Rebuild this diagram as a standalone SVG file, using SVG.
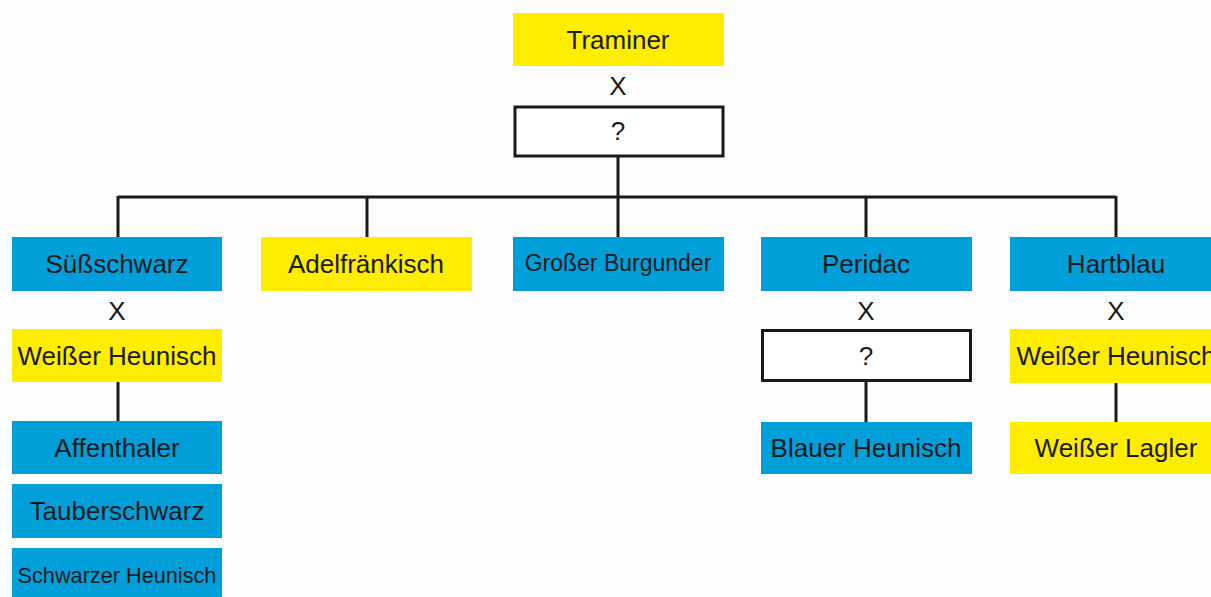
<svg xmlns="http://www.w3.org/2000/svg" width="1211" height="597" viewBox="0 0 1211 597">
<style>
.b{fill:#009fda}
.y{fill:#ffed00}
.w{fill:#ffffff;stroke:#1a1a1a;stroke-width:3}
text{font-family:"Liberation Sans",Arial,sans-serif;font-size:26px;fill:#1a1a1a;text-anchor:middle}
.s{font-size:21.7px}
.g{font-size:23px}
.c{stroke:#1a1a1a;stroke-width:3;fill:none}
</style>
<rect width="1211" height="597" fill="#fdfdfd"/>
<g id="connectors">
<path class="c" d="M618 156V197M118 197H1116M118 196V237M367 196V237M618 196V237M866 196V237M1116 196V237"/>
<path class="c" d="M118 382V421M866 381V422M1116 383V422"/>
</g>
<g id="traminer"><rect class="y" x="513" y="13" width="211" height="53"/><text x="618" y="49">Traminer</text></g>
<g id="x1"><text x="618" y="95">X</text></g>
<g id="unknown1"><rect class="w" x="515" y="107" width="208" height="49"/><text x="618" y="140">?</text></g>
<g id="suessschwarz"><rect class="b" x="12" y="237" width="210" height="54"/><text x="117" y="273">Süßschwarz</text></g>
<g id="x2"><text x="117" y="320">X</text></g>
<g id="weisser-heunisch1"><rect class="y" x="12" y="329" width="210" height="53"/><text x="117" y="365">Weißer Heunisch</text></g>
<g id="affenthaler"><rect class="b" x="12" y="421" width="210" height="53"/><text x="117" y="457">Affenthaler</text></g>
<g id="tauberschwarz"><rect class="b" x="12" y="484" width="210" height="54"/><text x="117" y="520">Tauberschwarz</text></g>
<g id="schwarzer-heunisch"><rect class="b" x="12" y="548" width="210" height="54"/><text class="s" x="117" y="583">Schwarzer Heunisch</text></g>
<g id="adelfraenkisch"><rect class="y" x="261" y="237" width="211" height="54"/><text x="366" y="273">Adelfränkisch</text></g>
<g id="grosser-burgunder"><rect class="b" x="513" y="237" width="211" height="54"/><text class="g" x="618" y="271">Großer Burgunder</text></g>
<g id="peridac"><rect class="b" x="761" y="237" width="211" height="54"/><text x="866" y="273">Peridac</text></g>
<g id="x3"><text x="866" y="320">X</text></g>
<g id="unknown2"><rect class="w" x="762.500" y="330.500" width="208" height="50"/><text x="866" y="365">?</text></g>
<g id="blauer-heunisch"><rect class="b" x="761" y="422" width="211" height="52"/><text x="866" y="457">Blauer Heunisch</text></g>
<g id="hartblau"><rect class="b" x="1010" y="237" width="212" height="54"/><text x="1116" y="273">Hartblau</text></g>
<g id="x4"><text x="1116" y="320">X</text></g>
<g id="weisser-heunisch2"><rect class="y" x="1010" y="329" width="212" height="54"/><text x="1116" y="365">Weißer Heunisch</text></g>
<g id="weisser-lagler"><rect class="y" x="1010" y="422" width="212" height="52"/><text x="1116" y="457">Weißer Lagler</text></g>
</svg>
